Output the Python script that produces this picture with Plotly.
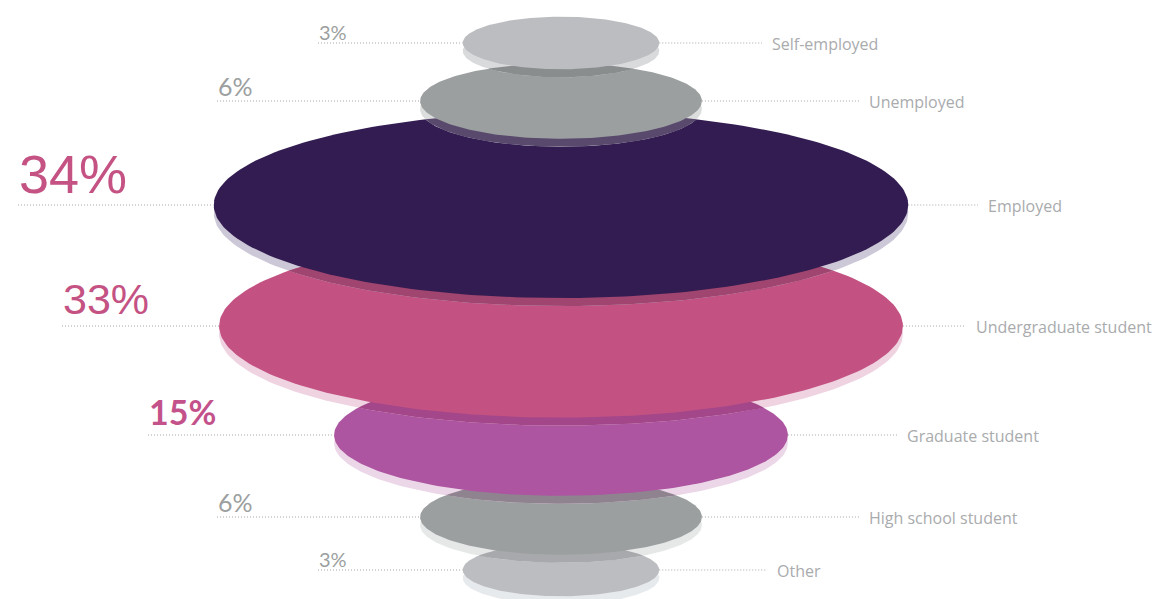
import numpy as np
import plotly.graph_objects as go

# ---- data -------------------------------------------------------------
categories = ["Self-employed", "Unemployed", "Employed", "Undergraduate student",
              "Graduate student", "High school student", "Other"]
shares = [3, 6, 34, 33, 15, 6, 3]
pct_labels = [f"{v}%" for v in shares]

# ---- layout / style ---------------------------------------------------
W, H = 1164, 599
CX = 561                 # common centre of the stack
RADIUS_K = 55.5          # half-width scale (px)
RADIUS_POW = 0.52        # half-width grows roughly with sqrt(percent)
ASPECT = 0.268           # vertical / horizontal radius
SHADOW_DY = 8            # drop of the rim under each disc

row_y = [43, 101, 205, 326, 435, 517, 570]
pct_x = [318, 217, 18, 62, 148, 217, 318]
pct_lift = [-2, -1, 0, 2, 2, -1, -2]     # text bottom relative to the leader line
name_x = [771, 868, 987, 975, 906, 868, 776]
pct_size = [20, 25, 54, 43, 34, 25, 20]
pct_family = ["Lato", "Lato", "Liberation Sans", "Liberation Sans", "Lato", "Lato", "Lato"]
pct_weight = ["normal", "normal", "normal", "normal", "bold", "normal", "normal"]
pct_color = ["#9c9fa0", "#9c9fa0", "#c45283", "#c45283", "#c4528a", "#9c9fa0", "#9c9fa0"]

body_color = ["#bcbdc1", "#9c9fa0", "#331c51", "#c35283", "#ad55a0", "#9c9fa0", "#bcbdc1"]
rim_color = ["#d9dadc", "#dcdddd", "#cdc8d8", "#efd3e1", "#ecd7e8", "#e6e8e8", "#e7eaed"]
# rim colour where it falls onto the next disc down
rim_on_next = ["#8a8d8e", "#58496d", "#a0456f", "#a4468a", "#8f8390", "#a8a9ac", None]

LINE_COLOR = "#a6a6a6"
NAME_COLOR = "#a9abad"


def ellipse(cx, cy, rx, ry, n=240):
    t = np.linspace(0, 2 * np.pi, n, endpoint=False)
    return list(zip(cx + rx * np.cos(t), cy + ry * np.sin(t)))


def clip(subject, clipper):
    """Sutherland-Hodgman clipping of a polygon by a convex polygon."""
    def inside(p, a, b):
        return (b[0] - a[0]) * (p[1] - a[1]) - (b[1] - a[1]) * (p[0] - a[0]) >= 0

    def cross_pt(s, e, a, b):
        dx1, dy1 = e[0] - s[0], e[1] - s[1]
        dx2, dy2 = b[0] - a[0], b[1] - a[1]
        den = dx1 * dy2 - dy1 * dx2
        t = ((a[0] - s[0]) * dy2 - (a[1] - s[1]) * dx2) / den
        return (s[0] + t * dx1, s[1] + t * dy1)

    out = list(subject)
    for i in range(len(clipper)):
        a, b = clipper[i], clipper[(i + 1) % len(clipper)]
        inp, out = out, []
        if not inp:
            break
        s = inp[-1]
        for e in inp:
            if inside(e, a, b):
                if not inside(s, a, b):
                    out.append(cross_pt(s, e, a, b))
                out.append(e)
            elif inside(s, a, b):
                out.append(cross_pt(s, e, a, b))
            s = e
    return out


def poly_trace(pts, color):
    xs = [p[0] for p in pts] + [pts[0][0]]
    ys = [p[1] for p in pts] + [pts[0][1]]
    return go.Scatter(x=xs, y=ys, mode="lines", fill="toself", fillcolor=color,
                      line=dict(width=0, color=color), hoverinfo="skip")


rx = [RADIUS_K * v ** RADIUS_POW for v in shares]
ry = [r * ASPECT for r in rx]
bodies = [ellipse(CX, row_y[i], rx[i], ry[i]) for i in range(len(shares))]
rims = [ellipse(CX, row_y[i] + SHADOW_DY, rx[i], ry[i]) for i in range(len(shares))]

fig = go.Figure()

# discs are stacked from the bottom up so each one sits on the next
for i in reversed(range(len(shares))):
    fig.add_trace(poly_trace(rims[i], rim_color[i]))
    if i + 1 < len(shares):
        overlap = clip(rims[i], bodies[i + 1])
        if len(overlap) > 2:
            fig.add_trace(poly_trace(overlap, rim_on_next[i]))
    fig.add_trace(poly_trace(bodies[i], body_color[i]))

# dotted leader lines
for i in range(len(shares)):
    left_edge = CX - rx[i]
    right_edge = CX + rx[i]
    fig.add_trace(go.Scatter(x=[pct_x[i], left_edge], y=[row_y[i], row_y[i]], mode="lines",
                             line=dict(color=LINE_COLOR, width=1, dash="1px,2px"),
                             hoverinfo="skip"))
    fig.add_trace(go.Scatter(x=[right_edge, name_x[i] - 9], y=[row_y[i], row_y[i]], mode="lines",
                             line=dict(color=LINE_COLOR, width=1, dash="1px,2px"),
                             hoverinfo="skip"))

annotations = []
for i in range(len(shares)):
    annotations.append(dict(
        x=pct_x[i], y=row_y[i] - pct_lift[i], xref="x", yref="y", text=pct_labels[i],
        showarrow=False, xanchor="left", yanchor="bottom", borderpad=0,
        font=dict(family=pct_family[i], size=pct_size[i], color=pct_color[i],
                  weight=pct_weight[i])))
    annotations.append(dict(
        x=name_x[i], y=row_y[i] + 1, xref="x", yref="y", text=categories[i],
        showarrow=False, xanchor="left", yanchor="middle", borderpad=0,
        font=dict(family="Open Sans", size=16, color=NAME_COLOR)))

fig.update_layout(
    width=W, height=H, autosize=False,
    margin=dict(l=0, r=0, t=0, b=0),
    paper_bgcolor="white", plot_bgcolor="white",
    showlegend=False,
    xaxis=dict(range=[0, W], visible=False, fixedrange=True),
    yaxis=dict(range=[H, 0], visible=False, fixedrange=True),
    annotations=annotations,
)

fig.write_html("out.html", config={"displayModeBar": False})
